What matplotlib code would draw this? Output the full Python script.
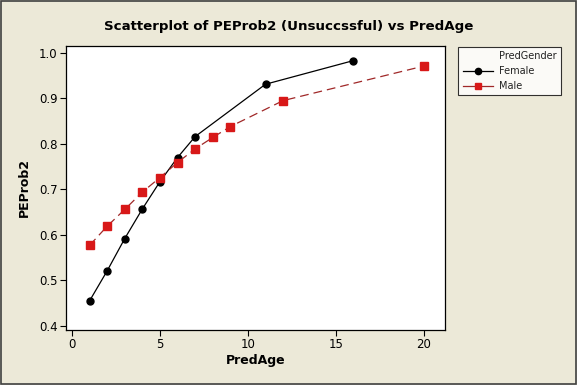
import matplotlib.pyplot as plt
from matplotlib.lines import Line2D
from matplotlib.patches import Rectangle

# values
female_age = [1, 2, 3, 4, 5, 6, 7, 11, 16]
female_prob = [0.455, 0.521, 0.592, 0.657, 0.717, 0.770, 0.816, 0.931, 0.983]
male_age = [1, 2, 3, 4, 5, 6, 7, 8, 9, 12, 20]
male_prob = [0.577, 0.619, 0.656, 0.694, 0.726, 0.759, 0.789, 0.814, 0.838, 0.895, 0.971]

x_ticks = [0, 5, 10, 15, 20]
y_ticks = [0.4, 0.5, 0.6, 0.7, 0.8, 0.9, 1.0]

bg = '#ECE9D8'
plt.rcParams['font.family'] = ['DejaVu Sans']

fig = plt.figure(figsize=(5.77, 3.85), dpi=100, facecolor=bg)
ax = fig.add_axes([0.1144, 0.1429, 0.6568, 0.7376])
ax.set_facecolor('white')

ax.plot(female_age, female_prob, color='black', lw=0.9, marker='o',
        markersize=5, label='Female')
ax.plot(male_age, male_prob, color='#A02828', lw=0.9, ls=(0, (7, 4)),
        marker='s', markersize=5.5, markerfacecolor='#D81818',
        markeredgecolor='#D81818', label='Male')

ax.set_xlim(-0.34, 21.2)
ax.set_ylim(0.391, 1.015)
ax.set_xticks(x_ticks)
ax.set_yticks(y_ticks)
ax.set_xticklabels([str(t) for t in x_ticks])
ax.set_yticklabels([f'{t:.1f}' for t in y_ticks])
ax.tick_params(direction='out', length=4, width=0.8, labelsize=8.5, pad=2)

for side in ['top', 'right', 'left', 'bottom']:
    ax.spines[side].set_linewidth(0.9)

ax.set_xlabel('PredAge', fontsize=9, fontweight='bold', labelpad=2)
ax.set_ylabel('PEProb2', fontsize=9, fontweight='bold', labelpad=6)
fig.text(0.5, 0.93, 'Scatterplot of PEProb2 (Unsuccssful) vs PredAge',
         ha='center', va='center', fontsize=9.6, fontweight='bold')

# legend with the title as a blank first entry
blank = Line2D([], [], color='none')
h_f = Line2D([], [], color='black', lw=0.9, marker='o', markersize=4.5)
h_m = Line2D([], [], color='#A02828', lw=0.9, marker='s', markersize=5,
             markerfacecolor='#D81818', markeredgecolor='#D81818')
leg = fig.legend([blank, h_f, h_m], ['PredGender', 'Female', 'Male'],
                 loc='upper left', bbox_to_anchor=(0.794, 0.878),
                 fontsize=7, frameon=True, fancybox=False,
                 edgecolor='black', handlelength=3.1, handletextpad=0.7,
                 borderpad=0.45, labelspacing=0.5, borderaxespad=0)
leg.get_frame().set_linewidth(0.8)
leg.get_frame().set_facecolor('white')
for t in leg.get_texts():
    t.set_color('#222222')

# outer frame of the figure
fig.patches.append(Rectangle((0.002, 0.003), 0.996, 0.994,
                             transform=fig.transFigure, fill=False,
                             edgecolor='#404040', linewidth=1.2))

fig.savefig('out.png', dpi=100, facecolor=bg)
plt.close(fig)
